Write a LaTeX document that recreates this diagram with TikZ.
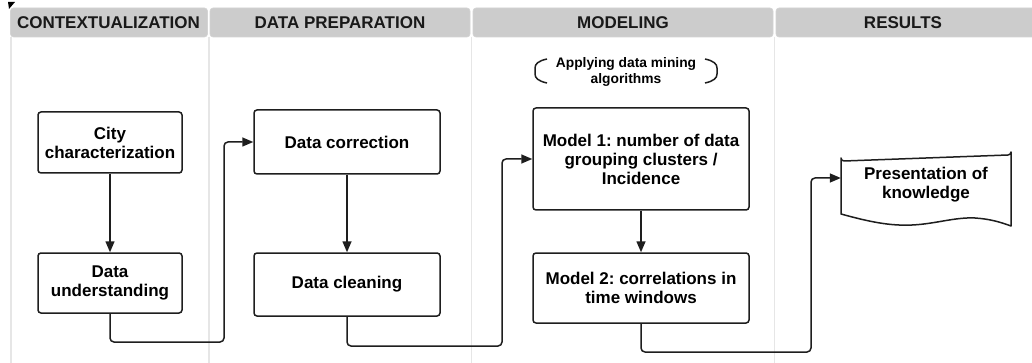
\documentclass[tikz,border=0pt]{standalone}
\usepackage{fontspec}
\setmainfont{Liberation Sans}
\usetikzlibrary{arrows.meta}
\frenchspacing
\definecolor{hdrgray}{HTML}{CCCCCC}
\definecolor{lanegray}{HTML}{E6E6E6}
\definecolor{inkc}{HTML}{1E1E1E}
\tikzset{
  hdrcell/.style={fill=hdrgray, draw=hdrgray!85!white, line width=0.6pt, rounded corners=3pt},
  hdrtext/.style={font=\fontsize{17}{19}\selectfont\bfseries, text=black!90, inner sep=0pt},
  lane/.style={draw=lanegray, line width=1.5pt},
  procbox/.style={draw=inkc, line width=1.5pt, rounded corners=3pt, fill=white,
    align=center, font=\fontsize{17}{19}\selectfont\bfseries\frenchspacing, inner sep=2pt},
  conn/.style={draw=inkc, line width=1.5pt, rounded corners=4pt,
    -{Triangle[length=11pt,width=9pt]}},
  plainconn/.style={draw=inkc, line width=1.5pt},
  annot/.style={align=center, font=\fontsize{13.8}{16}\selectfont\bfseries, inner sep=0pt}
}
\begin{document}
\begin{tikzpicture}[x=1pt,y=-1pt]
\useasboundingbox (0,0) rectangle (1032,363);
\fill[white] (0,0) rectangle (1032,363);
% corner mark
\fill[black] (8,2) -- (15,2) -- (9,9) -- cycle;
% lane lines
\draw[lane] (11,37) -- (11,363);
\draw[lane] (209,37) -- (209,363);
\draw[lane] (471.5,37) -- (471.5,363);
\draw[lane] (774.5,37) -- (774.5,363);
% header cells
\path[hdrcell] (10.5,8) rectangle (207.5,37);
\path[hdrcell] (210,8) rectangle (470,37);
\path[hdrcell] (473,8) rectangle (773,37);
\path[hdrcell] (776,8) rectangle (1036,37);
\node[hdrtext] (h1) at (108.5,22.5) {CONTEXTUALIZATION};
\node[hdrtext] (h2) at (340,22.5) {DATA PREPARATION};
\node[hdrtext] (h3) at (623,22.5) {MODELING};
\node[hdrtext] (h4) at (903,22.5) {RESULTS};
% process boxes
\node[procbox, minimum width=144pt, minimum height=61pt] (city) at (110,142.5) {City\\characterization};
\node[procbox, minimum width=144pt, minimum height=60pt] (du) at (110,283) {Data\\understanding};
\node[procbox, minimum width=186pt, minimum height=64pt] (dcor) at (347,142) {Data correction};
\node[procbox, minimum width=186pt, minimum height=63pt] (dcl) at (347,284.5) {Data cleaning};
\node[procbox, minimum width=216pt, minimum height=102pt] (m1) at (641,159) {Model 1: number of data\\grouping clusters /\\Incidence};
\node[procbox, minimum width=216pt, minimum height=70pt] (m2) at (641,288) {Model 2: correlations in\\time windows};
% document shape
\node[align=center, font=\fontsize{17}{19}\selectfont\bfseries, minimum width=170pt, minimum height=59pt, inner sep=0pt] (pres) at (926,184.5) {Presentation of\\knowledge};
\draw[inkc, line width=1.5pt, line join=round]
  (841,214) -- (841,158) arc[start angle=180, end angle=90, radius=3] -- (1008,155)
  arc[start angle=90, end angle=0, radius=3] -- (1011,226)
  .. controls (1000,222) and (990,219) .. (975,218)
  .. controls (955,217) and (935,224) .. (912,225)
  .. controls (890,226) and (870,222) .. (841,214) -- cycle;
\coordinate (presin) at ([yshift=6.5pt]pres.west);
% annotation
\node[annot] (ann) at (626,72) {Applying data mining\\algorithms};
\draw[plainconn] (547,59) .. controls (538,61) and (535,64) .. (535,68) -- (535,74)
  .. controls (535,78) and (538,81) .. (547,83);
\draw[plainconn] (705,59) .. controls (714,61) and (717,64) .. (717,68) -- (717,74)
  .. controls (717,78) and (714,81) .. (705,83);
% connectors
\draw[conn] (city.south) -- (du.north);
\draw[conn] (dcor.south) -- (dcl.north);
\draw[conn] (m1.south) -- (m2.north);
\draw[conn] (du.south) -- (du.south |- 0,342) -- (224,342) |- (dcor.west);
\draw[conn] (dcl.south) -- (dcl.south |- 0,346) -- (502,346) |- (m1.west);
\draw[conn] (m2.south) -- (m2.south |- 0,352) -- (811,352) |- (presin);
\end{tikzpicture}
\end{document}
